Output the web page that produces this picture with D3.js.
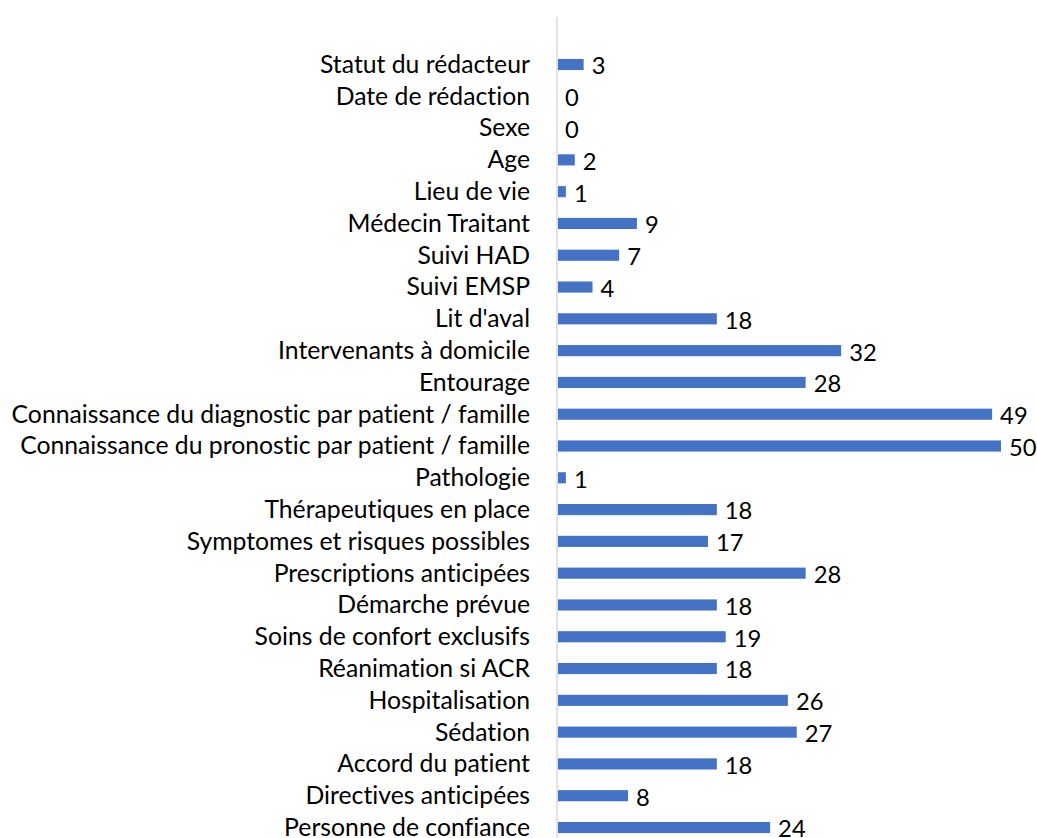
<!DOCTYPE html>
<html><head><meta charset="utf-8">
<script src="https://cdn.jsdelivr.net/npm/d3@7"></script>
<style>body{margin:0;background:#fff}svg{display:block}text{font-variant-ligatures:none;font-feature-settings:"liga" 0}</style>
</head><body>
<svg id="c" width="1037" height="838"></svg>
<script>
const categories = ["Statut du rédacteur","Date de rédaction","Sexe","Age","Lieu de vie","Médecin Traitant","Suivi HAD","Suivi EMSP","Lit d'aval","Intervenants à domicile","Entourage","Connaissance du diagnostic par patient / famille","Connaissance du pronostic par patient / famille","Pathologie","Thérapeutiques en place","Symptomes et risques possibles","Prescriptions anticipées","Démarche prévue","Soins de confort exclusifs","Réanimation si ACR","Hospitalisation","Sédation","Accord du patient","Directives anticipées","Personne de confiance"];
const values = [3,0,0,2,1,9,7,4,18,32,28,49,50,1,18,17,28,18,19,18,26,27,18,8,24];

const svg = d3.select("#c");
const font = "Lato, 'Open Sans', sans-serif";
const x0 = 557;
const x = d3.scaleLinear().domain([0, 50]).range([x0, x0 + 444]);
const y = d3.scaleBand().domain(categories).range([48.6, 843.4]).paddingInner(0.65).paddingOuter(0.325);

// fit font size so the longest label spans ~510px
const probe = svg.append("text").attr("font-family", font).attr("font-size", 20).text(categories[12]);
const w = probe.node().getComputedTextLength();
probe.remove();
const fs = 20 * 510 / w;
const cap = fs * 0.72;

svg.append("line").attr("x1", x0).attr("x2", x0).attr("y1", 17).attr("y2", 838)
  .attr("stroke", "#d9d9d9").attr("stroke-width", 1.5);

svg.selectAll("rect.bar").data(categories).join("rect").attr("class", "bar")
  .attr("x", x(0) + 1).attr("y", d => y(d))
  .attr("width", (d, i) => Math.max(0, x(values[i]) - x(0) - 1))
  .attr("height", y.bandwidth()).attr("fill", "#4472C4");

svg.selectAll("text.cat").data(categories).join("text").attr("class", "cat")
  .attr("x", 530).attr("y", d => y(d) + y.bandwidth() / 2 + cap / 2 - 0.5)
  .attr("text-anchor", "end")
  .attr("font-family", font).attr("font-size", fs).attr("fill", "#000").text(d => d);

svg.selectAll("text.val").data(categories).join("text").attr("class", "val")
  .attr("x", (d, i) => x(values[i]) + 8).attr("y", d => y(d) + y.bandwidth() / 2 + cap / 2 + 1)
  .attr("text-anchor", "start")
  .attr("font-family", font).attr("font-size", fs * 0.96).attr("fill", "#000").text((d, i) => values[i]);
</script>
</body></html>
